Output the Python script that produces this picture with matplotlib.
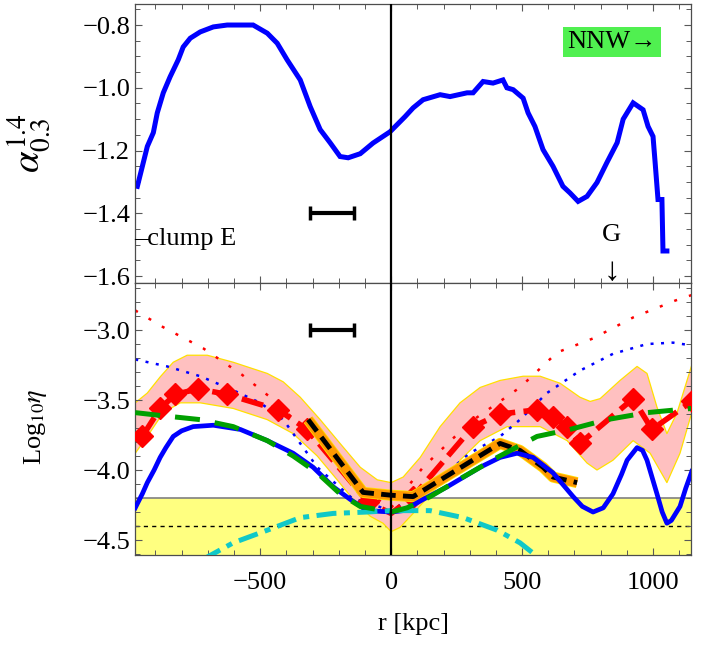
import matplotlib
matplotlib.use("Agg")
import matplotlib.pyplot as plt
from matplotlib.ticker import MultipleLocator
import numpy as np

plt.rcParams['font.family'] = ['Liberation Serif', 'DejaVu Serif']
plt.rcParams['mathtext.fontset'] = 'stix'

# ---- top panel: spectral index profile ----
alpha_r = [-969, -931, -908, -893, -870, -844, -813, -794, -767, -729, -679, -626, -527, -473,
           -435, -397, -347, -309, -271, -233, -195, -164, -118, -69, -4, 53, 84, 122, 187,
           225, 290, 313, 351, 389, 427, 442, 466, 504, 523, 549, 580, 618, 656, 683, 714,
           748, 786, 824, 863, 886, 924, 962, 981, 1000, 1008, 1019, 1034, 1038, 1053]
alpha_v = [-1.314, -1.187, -1.143, -1.08, -1.016, -0.965, -0.911, -0.87, -0.842, -0.822, -0.806,
           -0.8, -0.8, -0.826, -0.858, -0.911, -0.975, -1.06, -1.133, -1.175, -1.219, -1.223,
           -1.21, -1.176, -1.14, -1.092, -1.064, -1.038, -1.022, -1.028, -1.016, -1.016, -0.98,
           -0.985, -0.975, -1.0, -1.006, -1.033, -1.08, -1.123, -1.197, -1.25, -1.314, -1.335,
           -1.362, -1.346, -1.302, -1.238, -1.175, -1.10, -1.048, -1.07, -1.123, -1.155, -1.238,
           -1.356, -1.356, -1.52, -1.52]

# ---- bottom panel ----
band_up_r = [-977, -931, -882, -832, -779, -702, -603, -473, -412, -347, -271, -195, -118, -53,
             0, 46, 111, 187, 263, 340, 416, 504, 569, 645, 721, 760, 798, 874, 939, 977,
             1015, 1053, 1092, 1148]
band_up_v = [-3.52, -3.45, -3.335, -3.23, -3.18, -3.18, -3.23, -3.31, -3.37, -3.48, -3.64, -3.81,
             -3.98, -4.07, -4.09, -4.05, -3.91, -3.69, -3.52, -3.41, -3.36, -3.33, -3.33, -3.38,
             -3.48, -3.51, -3.49, -3.36, -3.26, -3.31, -3.55, -3.74, -3.59, -3.25]
band_lo_r = [-977, -931, -870, -805, -729, -603, -473, -374, -282, -206, -145, -80, -31,
             0, 34, 84, 176, 263, 340, 443, 569, 672, 748, 786, 847, 924, 989, 1053, 1103, 1148]
band_lo_v = [-3.88, -3.76, -3.59, -3.52, -3.52, -3.56, -3.64, -3.74, -3.90, -4.07, -4.21, -4.33,
             -4.38, -4.44, -4.41, -4.31, -4.12, -3.93, -3.79, -3.69, -3.69, -3.79, -3.95, -4.0,
             -3.93, -3.79, -3.88, -4.09, -3.88, -3.59]

data_r = [-950, -882, -824, -737, -626, -431, -321, -88, 0, 84, 313, 416, 557, 618, 672, 721,
          924, 996, 1148]
data_v = [-3.76, -3.56, -3.46, -3.42, -3.46, -3.57, -3.71, -4.23, -4.31, -4.19, -3.69, -3.60,
          -3.57, -3.62, -3.69, -3.81, -3.49, -3.71, -3.51]

reddot_r = [-977, -870, -718, -569, -435, -206, -100, 0, 122, 300, 492, 634, 771, 924, 1084, 1148]
reddot_v = [-2.86, -2.98, -3.13, -3.32, -3.52, -3.95, -4.15, -4.27, -3.98, -3.66, -3.41, -3.16,
            -3.06, -2.91, -2.79, -2.75]

bluedot_r = [-977, -855, -729, -603, -500, -412, -347, -282, -150, 0, 150, 300, 416, 492, 595,
             721, 847, 977, 1076, 1148]
bluedot_v = [-3.21, -3.26, -3.33, -3.43, -3.52, -3.64, -3.81, -3.98, -4.20, -4.29, -4.12, -3.88,
             -3.76, -3.64, -3.45, -3.29, -3.17, -3.10, -3.09, -3.11]

model_r = [-977, -969, -950, -931, -905, -882, -860, -832, -800, -756, -679, -576, -473, -374,
           -298, -221, -156, -92, 0, 46, 122, 214, 340, 416, 481, 542, 618, 695, 730, 771, 810,
           847, 880, 901, 939, 960, 977, 1015, 1035, 1053, 1070, 1103, 1125, 1148]
model_v = [-4.27, -4.24, -4.17, -4.09, -4.00, -3.91, -3.84, -3.76, -3.72, -3.69, -3.68, -3.71,
           -3.79, -3.88, -3.98, -4.12, -4.21, -4.29, -4.30, -4.29, -4.21, -4.12, -3.98, -3.91,
           -3.88, -3.91, -4.02, -4.19, -4.26, -4.30, -4.27, -4.17, -4.03, -3.93, -3.84, -3.86,
           -3.93, -4.17, -4.30, -4.38, -4.36, -4.26, -4.13, -4.01]

green_r = [-977, -882, -729, -603, -473, -374, -282, -195, -118, 0, 61, 149, 275, 405, 557, 683,
           824, 977, 1148]
green_v = [-3.59, -3.61, -3.64, -3.69, -3.79, -3.90, -4.02, -4.17, -4.26, -4.30, -4.27, -4.19,
           -4.05, -3.91, -3.76, -3.71, -3.64, -3.59, -3.56]

cyan_r = [-720, -603, -473, -347, -221, -92, 0, 149, 275, 405, 492, 580]
cyan_v = [-4.64, -4.52, -4.43, -4.34, -4.31, -4.30, -4.29, -4.29, -4.34, -4.43, -4.52, -4.65]

black_r = [-317, -107, 0, 84, 416, 492, 580, 618, 710]
black_v = [-3.64, -4.16, -4.18, -4.19, -3.81, -3.86, -3.98, -4.05, -4.09]

floor_top = -4.2
floor_mid = -4.4

fig = plt.figure(figsize=(7.07, 6.47), dpi=100)
L, R = 135 / 707, 691 / 707
ax1 = fig.add_axes([L, 1 - 283 / 647, R - L, (283 - 4) / 647])
ax2 = fig.add_axes([L, 1 - 555 / 647, R - L, (555 - 283) / 647])

xlim = (-978, 1145)
FS = 19

for ax in (ax1, ax2):
    ax.set_xlim(*xlim)
    ax.axvline(0, color='black', lw=1.6, zorder=6)
    ax.xaxis.set_major_locator(MultipleLocator(500))
    ax.xaxis.set_minor_locator(MultipleLocator(100))
    ax.tick_params(which='both', direction='in', top=True, right=True, labelsize=FS,
                   color='0.35')
    ax.tick_params(which='major', length=5, width=0.8)
    ax.tick_params(which='minor', length=3.5, width=0.7)
    ax.tick_params(axis='x', which='major', pad=12)
    for s in ax.spines.values():
        s.set_color('0.3')
        s.set_linewidth(0.9)

# top
ax1.plot(alpha_r, alpha_v, color='#0000ff', lw=3.6, solid_joinstyle='miter')
ax1.set_ylim(-1.622, -0.733)
ax1.yaxis.set_major_locator(MultipleLocator(0.2))
ax1.yaxis.set_minor_locator(MultipleLocator(0.05))
ax1.tick_params(labelbottom=False)
ax1.set_ylabel(r'$\alpha_{0.3}^{1.4}$', fontsize=28)
ax1.yaxis.set_label_coords(-0.15, 0.5)
ax1.errorbar([-225], [-1.4], xerr=[[85], [85]], fmt='none', ecolor='black', elinewidth=3,
             capsize=5, capthick=2.5)
ax1.text(-980, -1.483, '–clump E', fontsize=FS, va='center', ha='left')
ax1.text(843, -1.47, 'G', fontsize=FS, va='center', ha='center')
ax1.text(843, -1.585, '↓', fontsize=24, va='center', ha='center')
ax1.text(843, -0.853, 'NNW→', fontsize=FS, va='center', ha='center',
         bbox=dict(boxstyle='square,pad=0.15', facecolor='#50f050', edgecolor='none'))

# bottom
ax2.set_ylim(-4.607, -2.664)
ax2.yaxis.set_minor_locator(MultipleLocator(0.1))
ax2.set_yticks([-3.0, -3.5, -4.0, -4.5])
ax2.axhspan(-4.8, floor_top, facecolor='#ffff80', edgecolor='none', zorder=0)
ax2.axhline(floor_top, color='0.5', lw=1.2, zorder=1)
ax2.axhline(floor_mid, color='black', lw=1, ls=(0, (3, 3)), zorder=1)

grid = np.linspace(xlim[0], xlim[1], 600)
up = np.interp(grid, band_up_r, band_up_v)
lo = np.interp(grid, band_lo_r, band_lo_v)
ax2.fill_between(grid, lo, up, facecolor='#ffc0c0', edgecolor='none', zorder=1)
ax2.plot(band_up_r, band_up_v, color='#ffe000', lw=0.9, zorder=1.5)
ax2.plot(band_lo_r, band_lo_v, color='#ffe000', lw=0.9, zorder=1.5)

ax2.plot(reddot_r, reddot_v, color='red', lw=1.8, ls=(0, (1.2, 5)), zorder=2)
ax2.plot(bluedot_r, bluedot_v, color='#0000ff', lw=1.8, ls=(0, (1.2, 3)), zorder=2)

mark_idx = [i for i in range(len(data_r)) if data_r[i] != 0]
ax2.plot(data_r, data_v, color='red', lw=4, ls=(0, (4, 1.5)), marker='D', ms=11,
         markevery=mark_idx, zorder=3)

ax2.plot(black_r, black_v, color='#ffe000', lw=8, solid_capstyle='butt', zorder=3.5)
ax2.plot(black_r, black_v, color='#ff9900', lw=6.8, solid_capstyle='butt', zorder=3.6)
ax2.plot(black_r, black_v, color='black', lw=3.5, ls=(0, (3, 1.5)), zorder=3.7)

ax2.plot(model_r, model_v, color='#0000ff', lw=3.4, zorder=4)
ax2.plot(green_r, green_v, color='#00a000', lw=3.6, ls=(0, (5, 3)), zorder=4.5)
ax2.plot(cyan_r, cyan_v, color='#10c8c8', lw=3.6, ls=(0, (4, 1.5, 1.2, 1.5)), zorder=4)

ax2.errorbar([-225], [-3.0], xerr=[[85], [85]], fmt='none', ecolor='black', elinewidth=3,
             capsize=5, capthick=2.5)

ax2.set_ylabel(r'Log$_{10}\eta$', fontsize=FS)
ax2.yaxis.set_label_coords(-0.155, 0.47)
ax2.set_xlabel('r [kpc]', fontsize=FS, labelpad=14)
ax2.set_xticks([-500, 0, 500, 1000])
ax2.set_xticklabels(['−500', '0', '500', '1000'])

fig.savefig('out.png', dpi=100)
